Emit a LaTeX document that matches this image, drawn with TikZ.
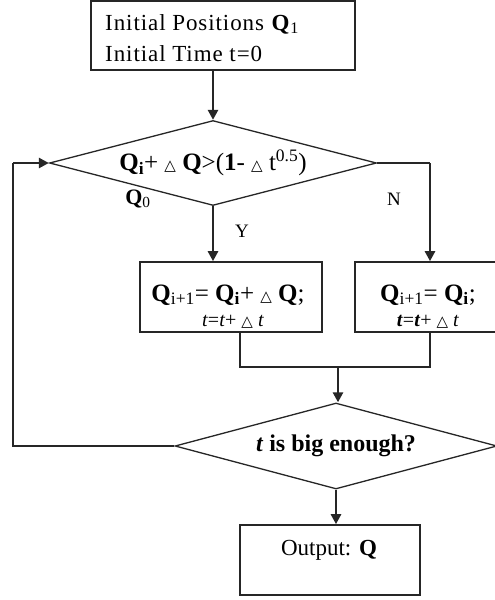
\documentclass[tikz,border=0pt]{standalone}
\usepackage{fontspec}
\setmainfont{Liberation Serif}
\newfontfamily\dvfont{DejaVu Sans}
\usetikzlibrary{arrows.meta,shapes.geometric}
\newcommand\tri{{\dvfont\fontsize{15}{15}\selectfont △}}
\newcommand\fs[1]{\fontsize{#1}{#1}\selectfont}
\begin{document}
\begin{tikzpicture}[x=1pt,y=-1pt,
  line/.style={draw=black!85, line width=1.6pt},
  arr/.style={line, line width=2.6pt, -{Triangle[length=10pt,width=10pt]}},
  box/.style={draw=black!85, line width=1.6pt, rectangle, inner sep=0pt},
  dia/.style={draw=black!85, line width=1.3pt, shape=diamond, inner sep=0pt},
  txt/.style={inner sep=0pt, align=center},
  btxt/.style={inner sep=0pt, anchor=base}]
\clip (0,0) rectangle (495,600);
\fill[white] (0,0) rectangle (495,600);
% top box
\node[box, minimum width=264pt, minimum height=69pt] (top) at (223,35.5) {};
\node[btxt, anchor=base west] (topa) at (105,30)
  {\fs{23}\addfontfeature{LetterSpace=4}Initial Positions \textbf{Q}\textsubscript{1}};
\node[btxt, anchor=base west] (topb) at (105,61)
  {\fs{23}\addfontfeature{LetterSpace=4}Initial Time t=0};
% decision 1
\node[dia, minimum width=327pt, minimum height=85pt, aspect=3.85] (d1) at (213,163)
  {\fs{25}\textbf{Q\textsubscript{i}}+ \tri{} \textbf{Q}>(\textbf{1}- \tri{} t\textsuperscript{0.5})};
\node[txt] (q0) at (138,199) {\fs{22}\textbf{Q}\textsubscript{0}};
\node[txt] (ylab) at (242,231) {\fs{19}Y};
\node[txt] (nlab) at (394,199) {\fs{19}N};
% update boxes
\node[box, minimum width=182pt, minimum height=70pt] (b1) at (231,297) {};
\node[btxt] (b1a) at (228,301) {\fs{25}\textbf{Q}\textsubscript{i+1}= \textbf{Q\textsubscript{i}}+ \tri{} \textbf{Q};};
\node[btxt] (b1b) at (233,326) {\fs{20}\textit{t}=\textit{t}+ \tri{} \textit{t}};
\node[box, minimum width=150pt, minimum height=70pt] (b2) at (430,297) {};
\node[btxt] (b2a) at (428,301) {\fs{25}\textbf{Q}\textsubscript{i+1}= \textbf{Q\textsubscript{i}};};
\node[btxt] (b2b) at (428,326) {\fs{20}\textbf{\textit{t}}=\textbf{\textit{t}}+ \tri{} \textit{t}};
% decision 2
\node[dia, minimum width=322pt, minimum height=86pt, aspect=3.75] (d2) at (336,446)
  {\fs{24}\textbf{\textit{t} is big enough?}};
% output
\node[box, minimum width=180pt, minimum height=70pt] (out) at (330,560) {};
\node[txt] (outt) at (329,550) {\fs{23}Output: \textbf{Q}};
% connectors
\coordinate (lb) at (13,446);
\coordinate (lt) at (13,163);
\coordinate (nr) at (430,163);
\coordinate (jn) at (338,367);
\draw[arr] (d1.north |- top.south) -- (d1.north);
\draw[arr] (d1.south) -- (d1.south |- b1.north);
\draw[line] (d1.east) -- (nr);
\draw[arr] (nr) -- (b2.north);
\draw[line] ([xshift=9pt]b1.south) |- (jn);
\draw[line] (b2.south) |- (jn);
\draw[arr] (jn) -- (jn |- d2.north);
\draw[arr] (d2.south) -- (d2.south |- out.north);
\draw[line] (d2.west) -- (lb) -- (lt);
\draw[arr] (lt) -- (d1.west);
\end{tikzpicture}
\end{document}
